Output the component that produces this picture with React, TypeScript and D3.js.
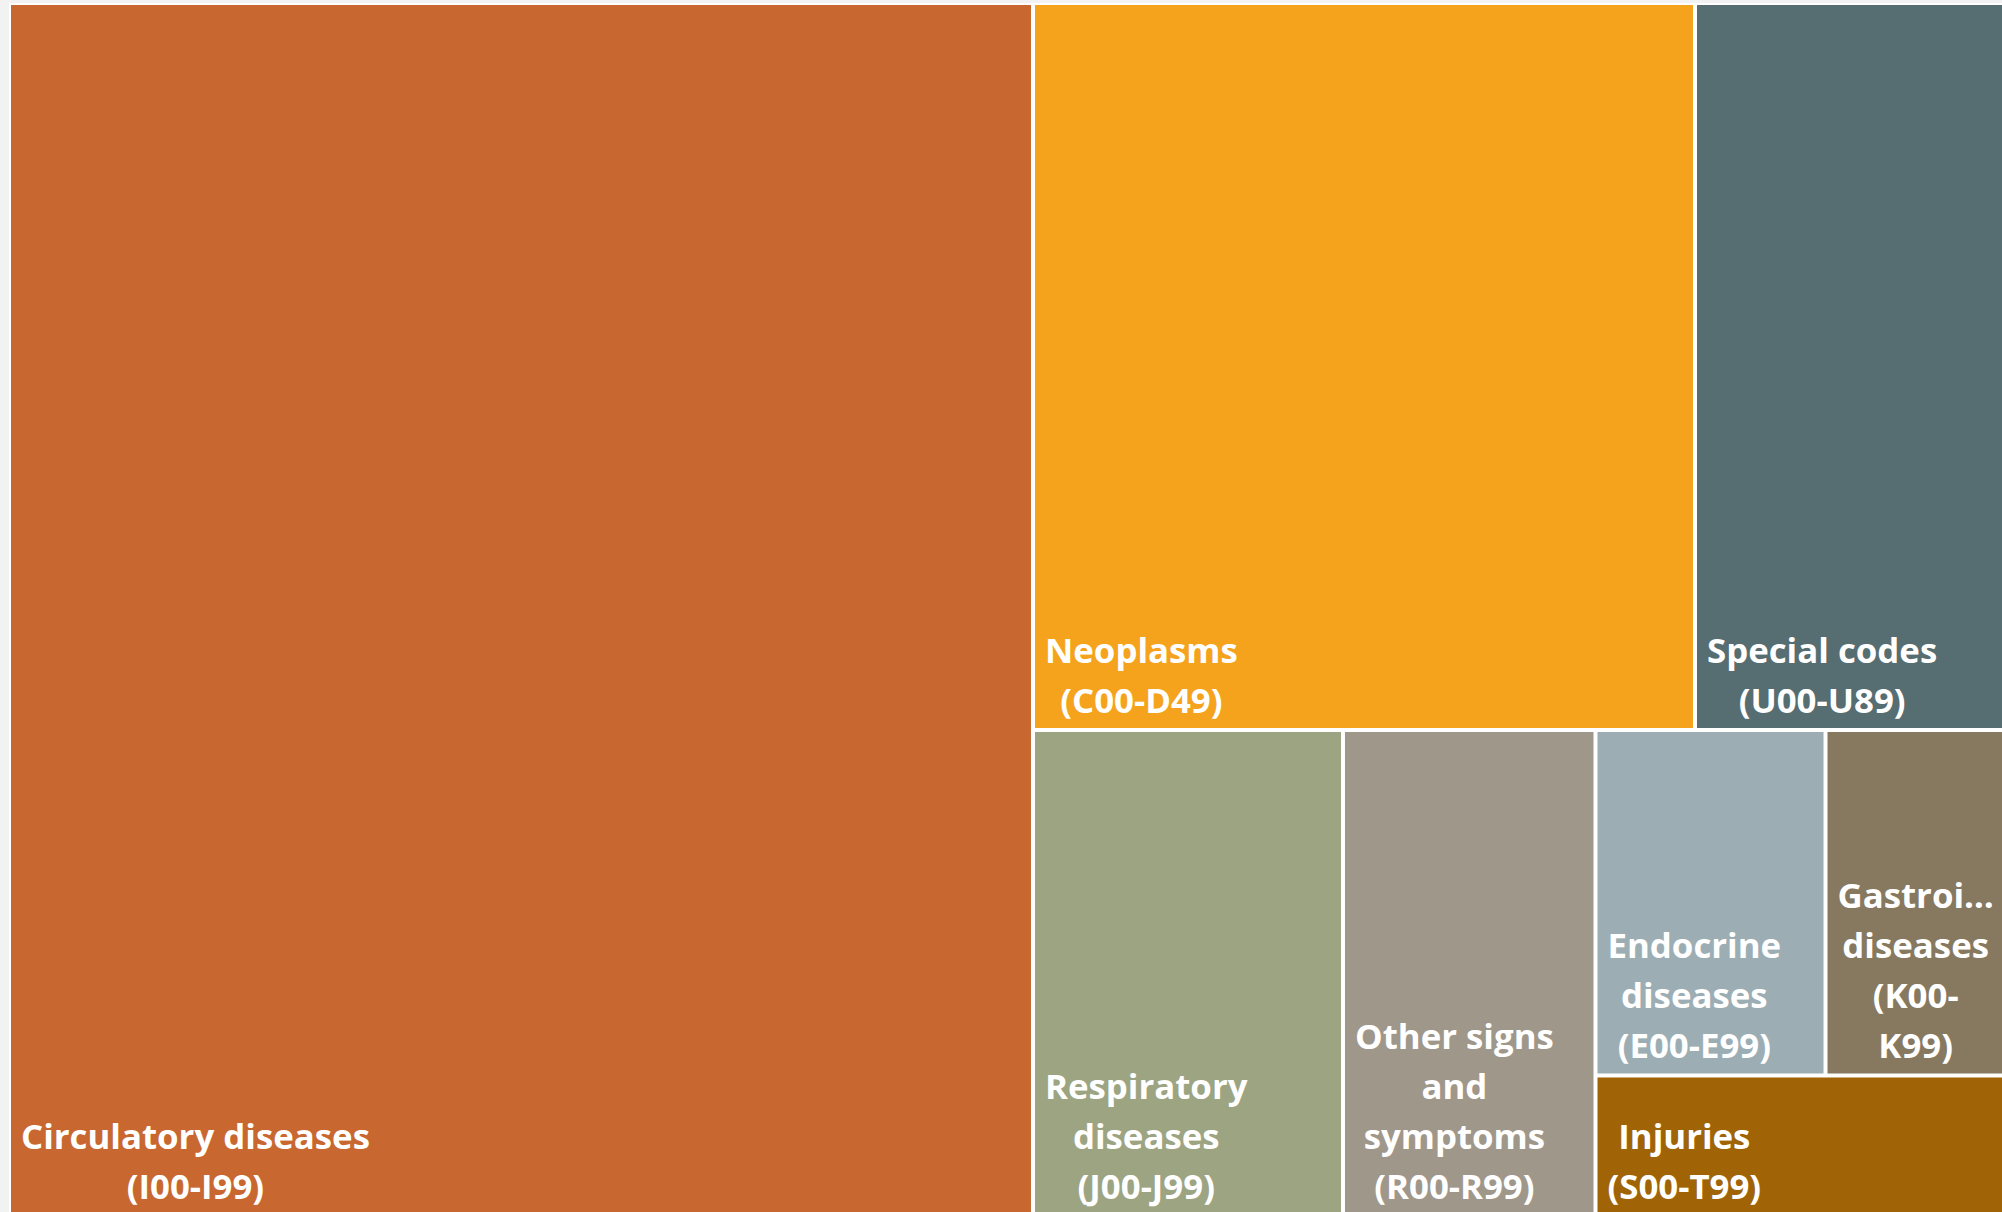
import React, { useMemo } from 'react';
import * as d3 from 'd3';

// ---- data ----
const categories = [
  'Circulatory diseases',
  'Neoplasms',
  'Special codes',
  'Respiratory diseases',
  'Other signs and symptoms',
  'Endocrine diseases',
  'Gastrointestinal diseases',
  'Injuries',
];
const codes = ['(I00-I99)', '(C00-D49)', '(U00-U89)', '(J00-J99)', '(R00-R99)', '(E00-E99)', '(K00-K99)', '(S00-T99)'];
const values = [124211, 48127, 22610, 15066, 12272, 7947, 6236, 5768];
const colors = ['#C86730', '#F5A31D', '#566D72', '#9DA482', '#A0978B', '#9CAEB4', '#87795F', '#A06406'];
// nesting of category indices that reproduces the original tile arrangement
const tiling: any = [0, [[1, 2], [3, 4, [[5, 6], 7]]]];

// ---- styles ----
const PAGE_W = 2002;
const PAGE_H = 1212;
const X0 = 9;
const Y0 = 3;
const X1 = 2006;
const Y1 = 1216;
const GAP = 2;
const FONT_SIZE = 34.8;
const FONT = `700 ${FONT_SIZE}px "Open Sans"`;
const LINE_H = 50;
const PAD_X = 10;
const PAD_B = 15;

let ctx: CanvasRenderingContext2D | null = null;
function measure(s: string) {
  if (!ctx) {
    ctx = document.createElement('canvas').getContext('2d');
  }
  ctx!.font = FONT;
  return ctx!.measureText(s).width;
}

function splitLong(word: string, maxW: number, clipW: number): string[] {
  if (measure(word) <= maxW) return [word];
  if (word.includes('-')) {
    const parts = word.split('-');
    return parts.map((p, i) => (i < parts.length - 1 ? p + '-' : p)).filter((p) => p.length);
  }
  let k = word.length - 1;
  while (k > 1 && measure(word.slice(0, k) + '…') > clipW) k--;
  return [word.slice(0, k) + '…'];
}

function wrap(text: string, maxW: number, clipW: number): string[] {
  const tokens: string[] = [];
  text.split(' ').forEach((w) => splitLong(w, maxW, clipW).forEach((t) => tokens.push(t)));
  const lines: string[] = [];
  let cur = '';
  tokens.forEach((t) => {
    const cand = cur ? cur + ' ' + t : t;
    if (!cur || measure(cand) <= maxW) cur = cand;
    else {
      lines.push(cur);
      cur = t;
    }
  });
  if (cur) lines.push(cur);
  return lines;
}

function build(node: any): any {
  if (typeof node === 'number') return { idx: node, value: values[node] };
  return { children: node.map(build) };
}

export default function App() {
  const leaves = useMemo(() => {
    const root = d3.hierarchy(build(tiling)).sum((d: any) => d.value || 0);
    d3.treemap<any>().tile(d3.treemapSliceDice).size([X1 - X0, Y1 - Y0])(root);
    return root.leaves() as any[];
  }, []);

  return (
    <div style={{ position: 'fixed', left: 0, top: 0, width: PAGE_W, height: PAGE_H, background: '#f2f2f2' }}>
      <svg width={PAGE_W} height={PAGE_H} style={{ display: 'block' }}>
        <rect x={X0} y={Y0} width={X1 - X0} height={Y1 - Y0} fill="#ffffff" />
        {leaves.map((n) => {
          const i = n.data.idx;
          const x = X0 + n.x0 + GAP;
          const y = Y0 + n.y0 + GAP;
          const w = n.x1 - n.x0 - 2 * GAP;
          const h = n.y1 - n.y0 - 2 * GAP;
          const maxW = w - 2 * PAD_X - 2;
          const clipW = w - 2 * PAD_X + 4;
          const lines = [...wrap(categories[i], maxW, clipW), ...wrap(codes[i], maxW, clipW)];
          const blockW = Math.min(clipW, d3.max(lines, (l) => measure(l)) || 0);
          const cx = x + PAD_X + blockW / 2;
          const lastBase = y + h - PAD_B;
          return (
            <g key={i}>
              <rect x={x} y={y} width={w} height={h} fill={colors[i]} />
              <text
                fill="#ffffff"
                fontFamily='"Open Sans", sans-serif'
                fontWeight={700}
                fontSize={FONT_SIZE}
                textAnchor="middle"
              >
                {lines.map((l, k) => (
                  <tspan key={k} x={cx} y={lastBase - (lines.length - 1 - k) * LINE_H}>
                    {l}
                  </tspan>
                ))}
              </text>
            </g>
          );
        })}
      </svg>
    </div>
  );
}
